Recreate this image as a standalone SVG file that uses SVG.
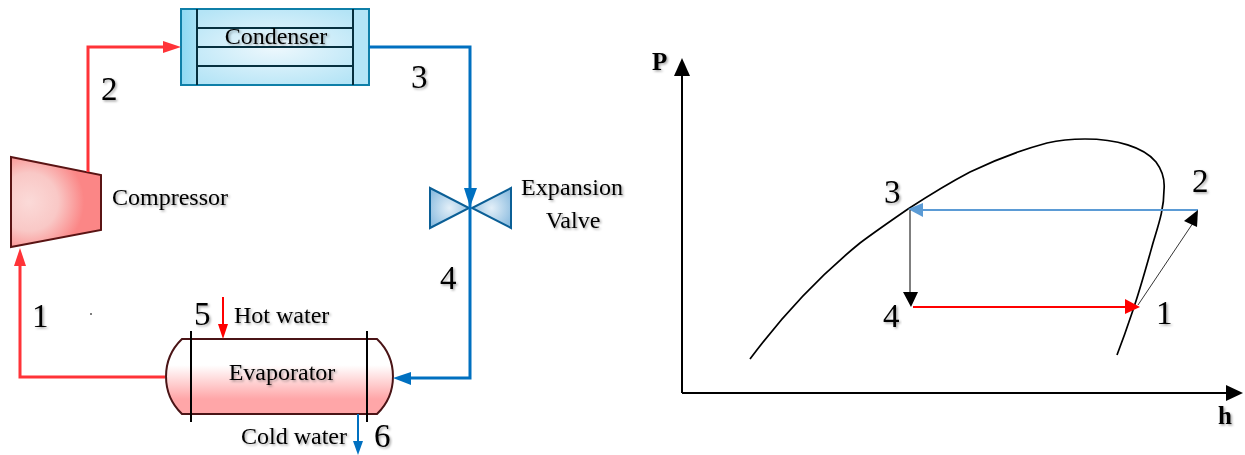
<svg xmlns="http://www.w3.org/2000/svg" width="1245" height="455" viewBox="0 0 1245 455">
<style>
text{font-family:"Liberation Serif","Times New Roman",serif;fill:#000;filter:url(#ts)}
.n{font-size:33px}.l{font-size:24px}.m{font-size:24px}
.red{fill:none;stroke:#ff3338;stroke-width:3}
.blue{fill:none;stroke:#0070c0;stroke-width:3}
.k{fill:none;stroke:#000;stroke-width:2}
.thin{fill:none;stroke:#000;stroke-width:1}
.c{fill:none;stroke:#06303f;stroke-width:2}
</style>
<defs>
<filter id="ts" x="-10%" y="-10%" width="125%" height="135%"><feDropShadow dx="1.5" dy="1.5" stdDeviation="1" flood-color="#000" flood-opacity=".35"/></filter>
<radialGradient id="cg" cx=".5" cy=".5" r=".6"><stop offset="0" stop-color="#eef8fd"/><stop offset="1" stop-color="#b4e4f6"/></radialGradient>
<linearGradient id="sg" x1="0" y1="0" x2="1" y2="0"><stop offset="0" stop-color="#8fd9f3"/><stop offset="1" stop-color="#a8e1f5"/></linearGradient>
<radialGradient id="pg" cx=".2" cy=".5" r=".72"><stop offset="0" stop-color="#fbdad8"/><stop offset=".45" stop-color="#f9c8c6"/><stop offset=".85" stop-color="#fb8686"/><stop offset="1" stop-color="#fb8686"/></radialGradient>
<linearGradient id="eg" x1="0" y1="0" x2="0" y2="1"><stop offset="0" stop-color="#fff"/><stop offset=".35" stop-color="#fff"/><stop offset=".8" stop-color="#ffa6a8"/><stop offset="1" stop-color="#ffa6a8"/></linearGradient>
<radialGradient id="vg" cx=".5" cy=".5" r=".6"><stop offset="0" stop-color="#e3eff8"/><stop offset="1" stop-color="#8dbde0"/></radialGradient>
</defs>
<g id="condenser">
<rect x="181" y="9" width="188" height="76" fill="url(#cg)" stroke="#0f7fa8" stroke-width="2"/>
<rect x="182" y="10" width="15" height="74" fill="url(#sg)"/><rect x="353" y="10" width="15" height="74" fill="#b4e5f7"/>
<path class="c" d="M197 9V85M353 9V85M197 28H353M197 47H353M197 66H353"/>
<text class="l" x="276" y="44" text-anchor="middle">Condenser</text>
</g>
<g id="compressor">
<polygon points="11,157 101,175 101,230 11,247" fill="url(#pg)" stroke="#5a1414" stroke-width="2"/>
<text class="l" x="112" y="205">Compressor</text>
</g>
<g id="valve">
<polygon points="430,188 430,228 469,208" fill="url(#vg)" stroke="#0b5f96" stroke-width="2"/>
<polygon points="511,188 511,228 472,208" fill="url(#vg)" stroke="#0b5f96" stroke-width="2"/>
<text class="m" x="572" y="195" text-anchor="middle" textLength="102">Expansion</text>
<text class="m" x="573" y="228" text-anchor="middle">Valve</text>
</g>
<g id="evaporator">
<path d="M182 339H377A52 52 0 0 1 377 414H182A52 52 0 0 1 182 339Z" fill="url(#eg)" stroke="#4a1416" stroke-width="2"/>
<path d="M191 331V422" stroke="#000" stroke-width="2"/><path d="M367 331V422" stroke="#000" stroke-width="2"/>
<text class="l" x="282" y="380" text-anchor="middle">Evaporator</text>
<text class="l" x="234" y="323">Hot water</text>
<text class="l" x="241" y="444">Cold water</text>
</g>
<g id="connectors">
<path class="red" d="M88 172V47H165"/><polygon fill="#ff3338" points="181,47 163,41 163,53"/>
<path class="red" d="M165 377H20V264"/><polygon fill="#ff3338" points="20,248 14,266 26,266"/>
<path class="blue" d="M369 47H470V378H409"/><polygon fill="#0070c0" points="393,378 411,372 411,385"/>
<polygon fill="#0070c0" points="470,207 464,188 477,188"/>
<path fill="none" stroke="#f00" stroke-width="2" d="M223 297V326"/><polygon fill="#f00" points="223,339 218,324 228,324"/>
<path fill="none" stroke="#0070c0" stroke-width="2" d="M358 414V443"/><polygon fill="#0070c0" points="358,455 353,441 363,441"/>
</g>
<g id="labels-cycle">
<text class="n" x="101" y="100">2</text><text class="n" x="411" y="88">3</text>
<text class="n" x="440" y="289">4</text><text class="n" x="32" y="327">1</text>
<text class="n" x="194" y="325">5</text><text class="n" x="374" y="447">6</text>
<circle cx="91" cy="314" r="1" fill="#555"/>
</g>
<g id="ph-chart">
<path class="k" d="M682 393V76"/><polygon points="682,58 674,76 690,76"/>
<path class="k" d="M682 393H1226"/><polygon points="1243,393 1226,385 1226,401"/>
<text x="652" y="70" font-size="25" font-weight="bold">P</text>
<text x="1218" y="424" font-size="25" font-weight="bold">h</text>
<path fill="none" stroke="#000" stroke-width="1.7" d="M750 359C785 312 822 274 860 243C876 231 892 220 908 209C928 196 949 183 970 172C995 160 1021 150 1047 143C1060 140 1070 139 1085 139C1116 139 1144 147 1156 162C1162 170 1165 180 1164 190C1164 210 1158 226 1153 243C1146 268 1140 290 1132 313C1127 328 1122 342 1117 355"/>
<path fill="none" stroke="#5b9bd5" stroke-width="2.2" d="M1198 210H922"/><polygon fill="#5b9bd5" points="908,209 923,203 923,217"/>
<path class="thin" d="M910 210V292"/><polygon points="911,307 903,292 918,292"/>
<path fill="none" stroke="#f00" stroke-width="2.2" d="M913 307H1126"/><polygon fill="#f00" points="1140,307 1125,299 1125,314"/>
<path fill="none" stroke="#000" stroke-width=".8" d="M1138 305L1193 223"/><polygon points="1198,210 1184,221 1197,227"/>
<text class="n" x="884" y="203">3</text><text class="n" x="1192" y="192">2</text>
<text class="n" x="883" y="327">4</text><text class="n" x="1156" y="324">1</text>
</g>
</svg>
